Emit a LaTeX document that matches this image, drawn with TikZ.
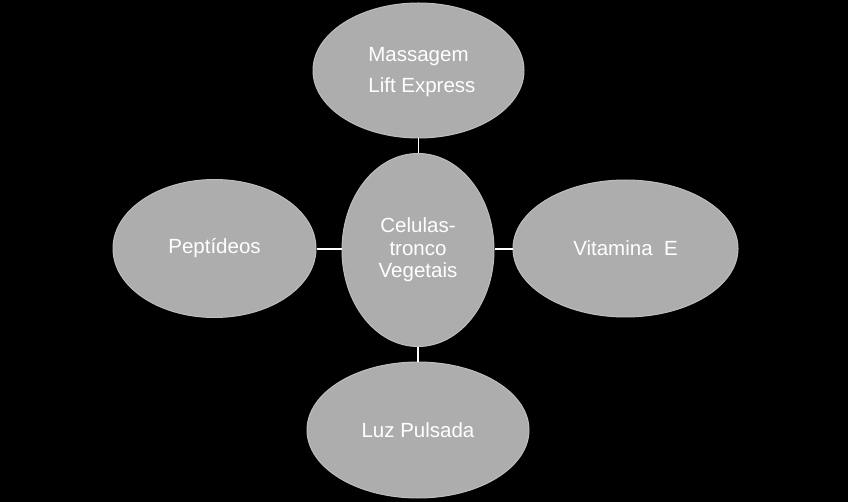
\documentclass[tikz,border=0pt]{standalone}
\usepackage{fontspec}
\setmainfont{Liberation Sans}
\usetikzlibrary{shapes.geometric}
\definecolor{bubble}{HTML}{ADADAD}
\definecolor{bubbleline}{HTML}{BEBEBE}
\tikzset{
  bubble/.style={ellipse, fill=bubble, draw=bubbleline, line width=1pt, inner sep=0pt,
    text=white, font=\fontsize{20.5}{22.5}\selectfont, align=center},
  link/.style={draw=white, line width=1.6pt}
}
\begin{document}
\begin{tikzpicture}[x=1pt,y=-1pt]
\fill[black] (0,0) rectangle (848,502);
\useasboundingbox (0,0) rectangle (848,502);
\node[bubble, minimum width=211pt, minimum height=135pt] (top) at (418.5,70.5)
  {\rule{0pt}{17pt}Massagem\\[8pt]\,\,Lift Express};
\node[bubble, minimum width=152pt, minimum height=193pt] (mid) at (418,250)
  {Celulas-\\tronco\\Vegetais};
\node[bubble, minimum width=203pt, minimum height=138pt] (left) at (214.5,248.5)
  {\raisebox{-1.5pt}{Peptídeos}};
\node[bubble, minimum width=225pt, minimum height=137pt] (right) at (625.5,248.5)
  {Vitamina\ \ E};
\node[bubble, minimum width=222pt, minimum height=136pt] (bot) at (418,430)
  {Luz Pulsada};
\draw[link] (top.south) -- (top.south |- mid.north);
\draw[link] (left.east |- 0,249) -- (mid.west |- 0,249);
\draw[link] (mid.east |- 0,249) -- (right.west |- 0,249);
\draw[link] (mid.south) -- (mid.south |- bot.north);
\end{tikzpicture}
\end{document}
